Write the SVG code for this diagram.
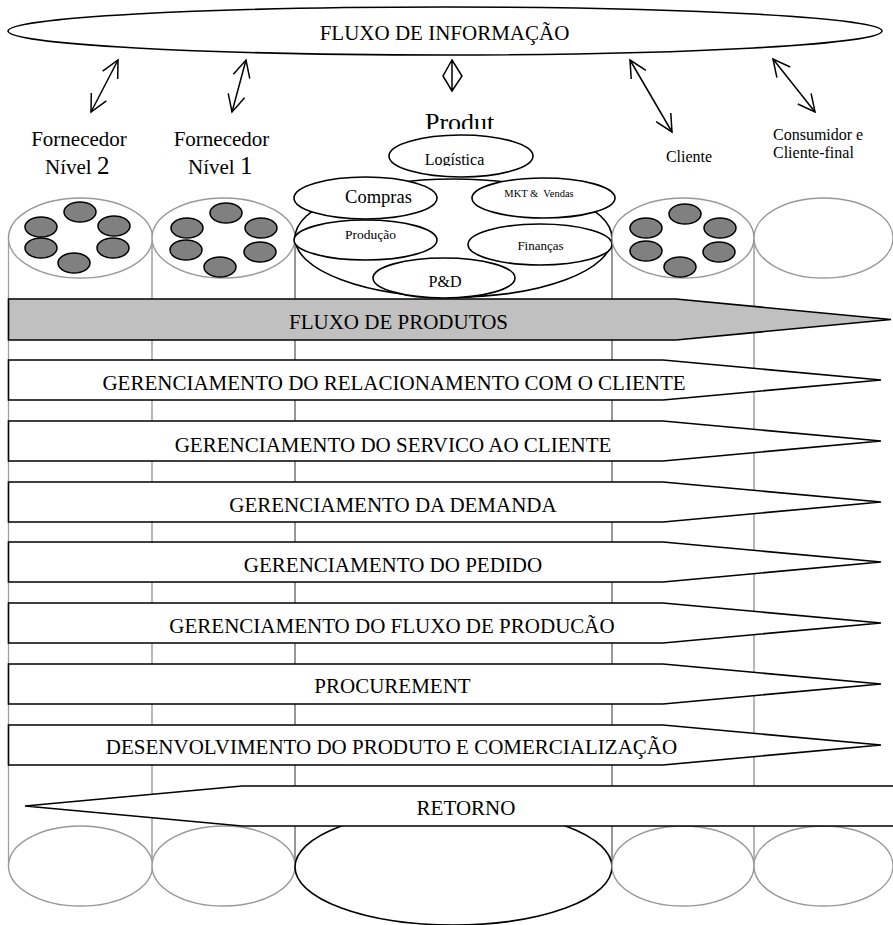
<svg xmlns="http://www.w3.org/2000/svg" width="893" height="925" viewBox="0 0 893 925">
<style>
text{font-family:"Liberation Serif","Times New Roman",serif;fill:#000}
.big{font-size:21px;text-anchor:middle}
.col{stroke-width:1.3;fill:none}
.cyl{fill:#fff;stroke:#999;stroke-width:1.4}
.dot{fill:#808080;stroke:#000;stroke-width:1.5}
.org{fill:#fff;stroke:#000;stroke-width:1.6}
.band{fill:#fff;stroke:#000;stroke-width:1.6}
.arr{fill:none;stroke:#000;stroke-width:1.5}
</style>
<defs>
<marker id="ah" viewBox="0 0 20 20" refX="18" refY="10" markerWidth="20" markerHeight="20" markerUnits="userSpaceOnUse" orient="auto-start-reverse">
<path d="M1,1.5 L18,10 L1,18.5" fill="none" stroke="#000" stroke-width="1.5"/>
</marker>
<clipPath id="cProdut"><rect x="380" y="100" width="160" height="29"/></clipPath>
<clipPath id="cLog"><rect x="400" y="140" width="120" height="26"/></clipPath>
<clipPath id="cPD"><rect x="400" y="260" width="100" height="28"/></clipPath>
</defs>

<g id="columns">
<line class="col" x1="8.5" y1="238" x2="8.5" y2="866" stroke="#a0a0a0"/>
<line class="col" x1="152" y1="238" x2="152" y2="866" stroke="#909090"/>
<line class="col" x1="295" y1="238" x2="295" y2="866" stroke="#606060"/>
<line class="col" x1="612" y1="238" x2="612" y2="866" stroke="#606060"/>
<line class="col" x1="754" y1="238" x2="754" y2="866" stroke="#909090"/>
</g>

<g id="fluxo-informacao">
<ellipse cx="445" cy="31" rx="437" ry="24" fill="#fff" stroke="#000" stroke-width="1.6"/>
<text class="big" x="444.5" y="40">FLUXO DE INFORMAÇÃO</text>
</g>

<g id="connectors">
<line class="arr" x1="91" y1="112" x2="118" y2="60" marker-start="url(#ah)" marker-end="url(#ah)"/>
<line class="arr" x1="232" y1="112" x2="246" y2="60" marker-start="url(#ah)" marker-end="url(#ah)"/>
<path class="arr" d="M452,60 L443,76 L452,91 L462,76 Z M452,60 L452,91"/>
<line class="arr" x1="672" y1="132" x2="630" y2="60" marker-start="url(#ah)" marker-end="url(#ah)"/>
<line class="arr" x1="815" y1="112" x2="773" y2="59" marker-start="url(#ah)" marker-end="url(#ah)"/>
</g>

<g id="fornecedor-2">
<ellipse class="cyl" cx="80.5" cy="238" rx="72" ry="40"/>
<ellipse class="cyl" cx="80.5" cy="866" rx="72" ry="40"/>
<ellipse class="dot" cx="80" cy="212" rx="16" ry="10"/>
<ellipse class="dot" cx="41" cy="227" rx="16" ry="10"/>
<ellipse class="dot" cx="114" cy="226" rx="16" ry="10"/>
<ellipse class="dot" cx="41" cy="248" rx="16" ry="10"/>
<ellipse class="dot" cx="113" cy="248" rx="16" ry="10"/>
<ellipse class="dot" cx="74" cy="263" rx="16" ry="10"/>
<text x="79" y="146" font-size="21" text-anchor="middle">Fornecedor</text>
<text x="45" y="174" font-size="21">Nível <tspan font-size="25">2</tspan></text>
</g>

<g id="fornecedor-1">
<ellipse class="cyl" cx="223.5" cy="238" rx="71.5" ry="40"/>
<ellipse class="cyl" cx="223.5" cy="866" rx="71.5" ry="40"/>
<ellipse class="dot" cx="226" cy="213" rx="16" ry="10"/>
<ellipse class="dot" cx="187" cy="228" rx="16" ry="10"/>
<ellipse class="dot" cx="261" cy="228" rx="16" ry="10"/>
<ellipse class="dot" cx="186" cy="250" rx="16" ry="10"/>
<ellipse class="dot" cx="260" cy="252" rx="16" ry="10"/>
<ellipse class="dot" cx="220" cy="267" rx="16" ry="10"/>
<text x="221.5" y="146" font-size="21" text-anchor="middle">Fornecedor</text>
<text x="188" y="174" font-size="21">Nível <tspan font-size="25">1</tspan></text>
</g>

<g id="produtor">
<ellipse class="org" cx="453.5" cy="238" rx="158.5" ry="59"/>
<ellipse class="org" cx="453.5" cy="867" rx="158.5" ry="58"/>
<text x="425" y="131" font-size="26" clip-path="url(#cProdut)">Produt</text>
<g id="logistica">
<ellipse class="org" cx="461" cy="156" rx="72" ry="21"/>
<text x="454.5" y="165" font-size="16" text-anchor="middle" clip-path="url(#cLog)">Logística</text>
</g>
<g id="compras">
<ellipse class="org" cx="365.5" cy="198" rx="71.5" ry="21"/>
<text x="378.5" y="203" font-size="18.5" text-anchor="middle">Compras</text>
</g>
<g id="mkt-vendas">
<ellipse class="org" cx="543.5" cy="198" rx="71.5" ry="20"/>
<text x="539" y="197" font-size="10.5" text-anchor="middle" xml:space="preserve">MKT &amp;  Vendas</text>
</g>
<g id="producao">
<ellipse class="org" cx="365.5" cy="240" rx="71.5" ry="20"/>
<text x="370.5" y="239" font-size="13.5" text-anchor="middle">Produção</text>
</g>
<g id="financas">
<ellipse class="org" cx="540" cy="244.5" rx="72" ry="20.5"/>
<text x="540.5" y="250" font-size="13" text-anchor="middle">Finanças</text>
</g>
<g id="pd">
<ellipse class="org" cx="444" cy="278" rx="71" ry="20"/>
<text x="445" y="287" font-size="16" text-anchor="middle" clip-path="url(#cPD)">P&amp;D</text>
</g>
</g>

<g id="cliente">
<ellipse class="cyl" cx="683" cy="238" rx="71" ry="40"/>
<ellipse class="cyl" cx="683" cy="866" rx="71" ry="40"/>
<ellipse class="dot" cx="685" cy="214" rx="16" ry="10"/>
<ellipse class="dot" cx="646" cy="228" rx="16" ry="10"/>
<ellipse class="dot" cx="720" cy="228" rx="16" ry="10"/>
<ellipse class="dot" cx="646" cy="251" rx="16" ry="10"/>
<ellipse class="dot" cx="719" cy="252" rx="16" ry="10"/>
<ellipse class="dot" cx="680" cy="267" rx="16" ry="10"/>
<text x="689" y="162" font-size="16" text-anchor="middle">Cliente</text>
</g>

<g id="consumidor">
<ellipse class="cyl" cx="823.5" cy="238" rx="69.5" ry="40"/>
<ellipse class="cyl" cx="823.5" cy="866" rx="69.5" ry="40"/>
<text x="773" y="140" font-size="16">Consumidor e</text>
<text x="773" y="158" font-size="16">Cliente-final</text>
</g>

<g id="band-fluxo-produtos">
<path class="band" fill="#c0c0c0" style="fill:#c0c0c0" d="M8.5,299 H676 L891,319.5 L676,340 H8.5 Z"/>
<text class="big" x="398.5" y="329">FLUXO DE PRODUTOS</text>
</g>
<g id="band-relacionamento">
<path class="band" d="M8.5,360 H663 L881,380 L663,400 H8.5 Z"/>
<text class="big" x="394" y="390">GERENCIAMENTO DO RELACIONAMENTO COM O CLIENTE</text>
</g>
<g id="band-servico">
<path class="band" d="M8.5,421 H663 L881,441 L663,461 H8.5 Z"/>
<text class="big" x="393" y="452">GERENCIAMENTO DO SERVICO AO CLIENTE</text>
</g>
<g id="band-demanda">
<path class="band" d="M8.5,482 H663 L881,502 L663,522 H8.5 Z"/>
<text class="big" x="393" y="512">GERENCIAMENTO DA DEMANDA</text>
</g>
<g id="band-pedido">
<path class="band" d="M8.5,542 H663 L881,562 L663,582 H8.5 Z"/>
<text class="big" x="393" y="572">GERENCIAMENTO DO PEDIDO</text>
</g>
<g id="band-fluxo-producao">
<path class="band" d="M8.5,603 H663 L881,623 L663,643 H8.5 Z"/>
<text class="big" x="392" y="633">GERENCIAMENTO DO FLUXO DE PRODUCÃO</text>
</g>
<g id="band-procurement">
<path class="band" d="M8.5,664 H663 L881,684 L663,704 H8.5 Z"/>
<text class="big" x="392.5" y="693">PROCUREMENT</text>
</g>
<g id="band-desenvolvimento">
<path class="band" d="M8.5,725 H663 L881,745 L663,765 H8.5 Z"/>
<text class="big" x="391.5" y="754">DESENVOLVIMENTO DO PRODUTO E COMERCIALIZAÇÃO</text>
</g>
<g id="band-retorno">
<path class="band" d="M900,786 H242 L25,806 L242,826 H900 Z"/>
<text class="big" x="466" y="815">RETORNO</text>
</g>
</svg>
